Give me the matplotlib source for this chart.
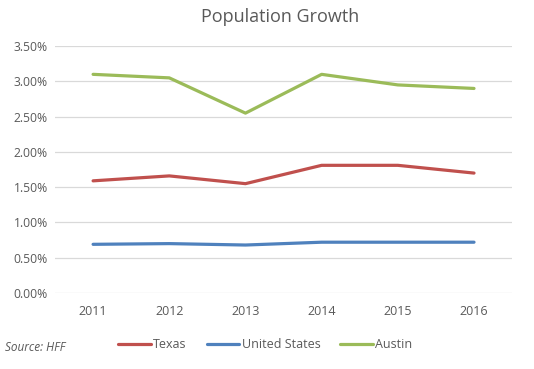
import matplotlib.pyplot as plt
from matplotlib.ticker import PercentFormatter

plt.rcParams['font.family'] = ['Open Sans', 'DejaVu Sans']

years = ['2011', '2012', '2013', '2014', '2015', '2016']
texas = [1.59, 1.66, 1.55, 1.81, 1.81, 1.70]
united_states = [0.69, 0.70, 0.68, 0.72, 0.72, 0.72]
austin = [3.10, 3.05, 2.55, 3.10, 2.95, 2.90]

grey = '#595959'

fig = plt.figure(figsize=(5.34, 3.69), dpi=100)
ax = fig.add_axes([0.103, 0.206, 0.856, 0.669])

x = range(len(years))
ax.plot(x, texas, color='#C0504D', lw=2.3, label='Texas', solid_capstyle='round')
ax.plot(x, united_states, color='#4F81BD', lw=2.3, label='United States', solid_capstyle='round')
ax.plot(x, austin, color='#9BBB59', lw=2.3, label='Austin', solid_capstyle='round')

ax.set_xlim(-0.5, len(years) - 0.5)
ax.set_ylim(0, 3.5)
ax.set_yticks([0, 0.5, 1.0, 1.5, 2.0, 2.5, 3.0, 3.5])
ax.yaxis.set_major_formatter(PercentFormatter(decimals=2))
ax.set_xticks(list(x))
ax.set_xticklabels(years)
ax.grid(axis='y', color='#D9D9D9', lw=0.9)
ax.set_axisbelow(True)
for s in ax.spines.values():
    s.set_visible(False)
ax.tick_params(length=0, colors=grey, labelsize=9)
ax.tick_params(axis='y', labelsize=8.7, pad=5)
ax.tick_params(axis='x', pad=9)

fig.text(0.524, 0.955, 'Population Growth', ha='center', va='center',
         fontsize=13, color=grey)

ax.legend(loc='center', bbox_to_anchor=(0.497, 0.066), bbox_transform=fig.transFigure,
          ncol=3, frameon=False, fontsize=9, handlelength=2.6, handletextpad=0.2,
          columnspacing=1.6, labelcolor=grey)

fig.text(0.01, 0.058, 'Source: HFF', ha='left', va='center', fontsize=8.5,
         style='italic', color=grey)

fig.savefig('out.png', dpi=100)
